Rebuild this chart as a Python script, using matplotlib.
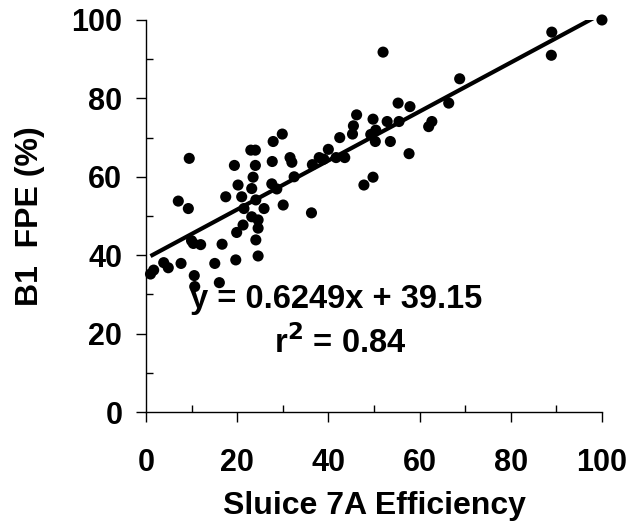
import matplotlib.pyplot as plt
from matplotlib.ticker import MultipleLocator

# Sluice 7A efficiency vs. B1 fish passage efficiency (%)
sluice_eff = [
    1.0, 1.7, 3.9, 4.9, 7.1, 7.7, 9.3, 9.5, 10.0, 10.4,
    10.6, 10.7, 12.0, 15.1, 16.1, 16.7, 17.5, 19.4, 19.7, 19.9,
    20.2, 21.0, 21.3, 21.5, 23.0, 24.0, 23.2, 23.2, 23.5, 24.0,
    24.1, 24.1, 24.6, 24.6, 24.6, 25.9, 27.9, 27.7, 27.6, 28.7,
    29.9, 30.1, 31.6, 32.0, 32.5, 36.3, 36.5, 38.0, 39.0, 40.0,
    41.7, 42.5, 43.6, 45.3, 45.5, 46.2, 47.8, 49.3, 49.8, 49.8,
    50.3, 50.4, 52.0, 52.9, 53.6, 55.3, 55.5, 57.7, 57.9, 62.0,
    62.7, 66.4, 68.8, 88.9, 89.0, 100.0,
]
b1_fpe = [
    35.2, 36.2, 38.1, 36.8, 53.8, 37.9, 51.9, 64.7, 43.7, 43.0,
    34.8, 32.0, 42.7, 37.9, 33.0, 42.8, 54.9, 62.9, 38.8, 45.8,
    57.9, 54.9, 47.7, 51.9, 66.8, 66.8, 57.0, 49.8, 59.9, 62.9,
    54.1, 43.9, 49.0, 46.9, 39.8, 51.9, 69.0, 63.9, 58.2, 56.9,
    70.9, 52.8, 64.9, 63.7, 60.0, 50.8, 63.1, 64.9, 64.5, 67.0,
    64.9, 70.0, 64.9, 70.9, 73.0, 75.8, 57.9, 70.8, 74.7, 59.9,
    69.0, 71.9, 91.8, 74.1, 69.0, 78.8, 74.1, 65.9, 77.9, 72.8,
    74.1, 78.8, 85.0, 91.0, 96.9, 100.0,
]

# linear trendline reported on the chart
slope = 0.6249
intercept = 39.15
r_squared = 0.84

plt.rcParams["font.family"] = ["Liberation Sans", "DejaVu Sans"]
plt.rcParams["font.weight"] = "bold"
tick_fs = 22
label_fs = 23
eq_fs = 23.5

fig = plt.figure(figsize=(6.29, 5.23), dpi=100)
ax = fig.add_axes([0.232, 0.2122, 0.725, 0.7496])

ax.scatter(sluice_eff, b1_fpe, s=64, c="black", edgecolors="none",
           zorder=3, clip_on=False)

x0 = min(sluice_eff)
x1 = 100
ax.plot([x0, x1], [slope * x0 + intercept, slope * x1 + intercept],
        color="black", lw=3, solid_capstyle="butt", zorder=2)

ax.text(41.7, 26.5, f"y = {slope}x + {intercept}", ha="center",
        va="baseline", fontsize=eq_fs, fontweight="bold")
ax.text(42.5, 15.1, f"r$^{{\\mathbf{{2}}}}$ = {r_squared}", ha="center",
        va="baseline", fontsize=eq_fs, fontweight="bold")

ax.set_xlim(0, 100)
ax.set_ylim(0, 100)
ax.spines["top"].set_visible(False)
ax.spines["right"].set_visible(False)
for side in ("left", "bottom"):
    ax.spines[side].set_linewidth(1.0)

ax.xaxis.set_major_locator(MultipleLocator(20))
ax.xaxis.set_minor_locator(MultipleLocator(10))
ax.yaxis.set_major_locator(MultipleLocator(20))
ax.yaxis.set_minor_locator(MultipleLocator(10))
ax.tick_params(which="major", direction="out", length=7, width=1,
               labelsize=tick_fs, pad=10)
ax.tick_params(which="minor", direction="in", length=5, width=1)
ax.tick_params(axis="x", which="major", pad=19)
for lbl in ax.get_xticklabels() + ax.get_yticklabels():
    lbl.set_fontweight("bold")

ax.set_xlabel("Sluice 7A Efficiency", fontsize=label_fs, fontweight="bold",
              labelpad=9)
ax.set_ylabel("B1  FPE (%)", fontsize=label_fs, fontweight="bold",
              labelpad=19)

fig.savefig("out.png", dpi=100)
